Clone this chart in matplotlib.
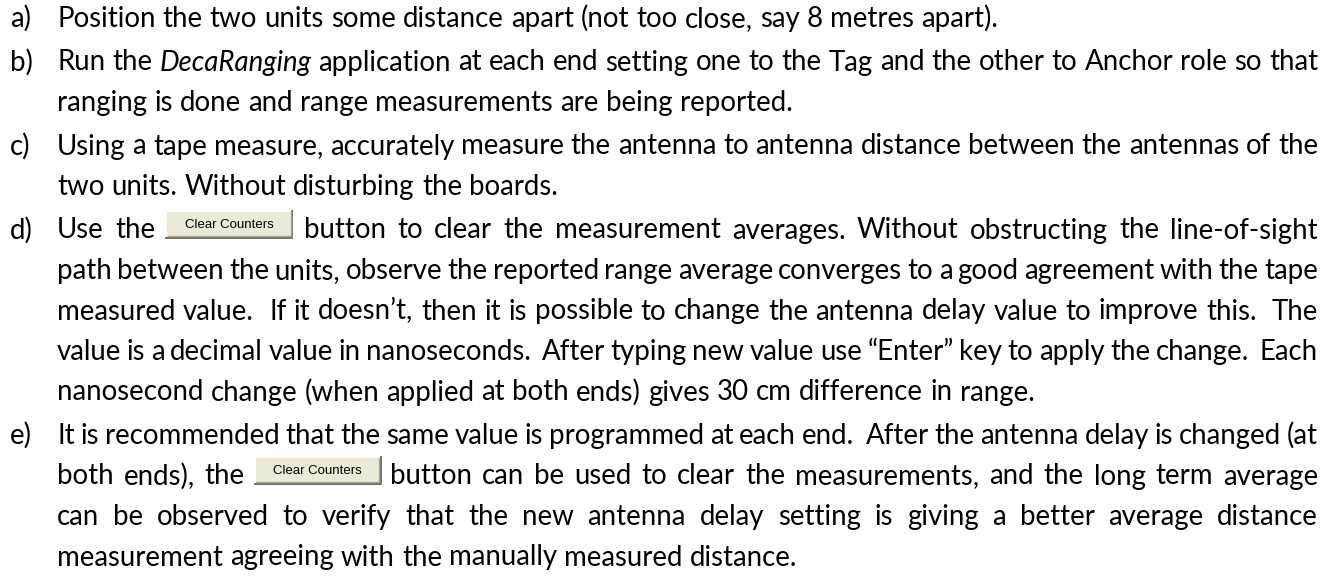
import matplotlib
matplotlib.use('Agg')
import matplotlib.pyplot as plt
from matplotlib.patches import Rectangle

# ------------------------------------------------------------------
# text of the page: one list of already-broken lines per item
labels = ['a)', 'b)', 'c)', 'd)', 'e)']
para_a = ["Position the two units some distance apart (not too close, say 8 metres apart)."]
para_b = ["Run the *DecaRanging* application at each end setting one to the Tag and the other to Anchor role so that",
          "ranging is done and range measurements are being reported."]
para_c = ["Using a tape measure, accurately measure the antenna to antenna distance between the antennas of the",
          "two units. Without disturbing the boards."]
para_d = ["Use the [BTN] button to clear the measurement averages. Without obstructing the line-of-sight",
          "path between the units, observe the reported range average converges to a good agreement with the tape",
          "measured value.  If it doesn\u2019t, then it is possible to change the antenna delay value to improve this.  The",
          "value is a decimal value in nanoseconds.  After typing new value use \u201cEnter\u201d key to apply the change.  Each",
          "nanosecond change (when applied at both ends) gives 30 cm difference in range."]
para_e = ["It is recommended that the same value is programmed at each end.  After the antenna delay is changed (at",
          "both ends), the [BTN] button can be used to clear the measurements, and the long term average",
          "can be observed to verify that the new antenna delay setting is giving a better average distance",
          "measurement agreeing with the manually measured distance."]
paragraphs = [para_a, para_b, para_c, para_d, para_e]
button_label = 'Clear Counters'
# ------------------------------------------------------------------

W, H = 1339, 583
FONT = 'Lato'
LABEL_X, LEFT, RIGHT = 10, 57, 1318
Y0, PITCH, PARA_GAP = 27, 40.5, 3
BTN_W, BTN_H = 126, 27

fig = plt.figure(figsize=(W / 100, H / 100), dpi=100)
ax = fig.add_axes([0, 0, 1, 1])
ax.set_xlim(0, W)
ax.set_ylim(H, 0)
ax.axis('off')
renderer = fig.canvas.get_renderer()


def width(t):
    return t.get_window_extent(renderer=renderer).width


# size chosen from the length of line a)
probe = ax.text(0, 0, para_a[0], fontsize=20, family=FONT)
FS = 20 * 940 / width(probe)
probe.remove()

probe = ax.text(0, 0, 'a a', fontsize=FS, family=FONT)
w2 = width(probe)
probe.set_text('aa')
SPACE = w2 - width(probe)
probe.remove()


def draw_button(x, base):
    top = base - 1 - BTN_H
    ax.add_patch(Rectangle((x, top), BTN_W, BTN_H, facecolor='#ECE9D8',
                           edgecolor='none', zorder=2))
    ax.plot([x, x, x + BTN_W], [top + BTN_H, top, top], color='white', lw=1.2, zorder=3)
    ax.plot([x, x + BTN_W, x + BTN_W], [top + BTN_H, top + BTN_H, top],
            color='#716F64', lw=1.4, zorder=3)
    ax.plot([x + 1.5, x + BTN_W - 1.5, x + BTN_W - 1.5],
            [top + BTN_H - 1.5, top + BTN_H - 1.5, top + 1.5],
            color='#ACA899', lw=1, zorder=3)
    ax.text(x + BTN_W / 2, top + BTN_H / 2 + 0.5, button_label, fontsize=9.5,
            family=['Liberation Sans Narrow', 'Liberation Sans'],
            ha='center', va='center', color='black', zorder=4)


y = Y0
for label, lines in zip(labels, paragraphs):
    ax.text(LABEL_X, y, label, fontsize=FS, family=FONT, va='baseline', color='black')
    for i, line in enumerate(lines):
        tokens = line.split(' ')
        items = []
        for tok in tokens:
            if tok == '[BTN]':
                items.append(('btn', None, BTN_W))
            elif tok == '':
                items.append(('gap', None, 0))
            else:
                style = 'normal'
                if tok.startswith('*') and tok.endswith('*'):
                    tok, style = tok[1:-1], 'italic'
                t = ax.text(0, y, tok, fontsize=FS, family=FONT, style=style,
                            va='baseline', ha='left', color='black')
                items.append(('txt', t, width(t)))
        justified = i < len(lines) - 1
        total = sum(it[2] for it in items)
        gap = (RIGHT - LEFT - total) / (len(items) - 1) if justified else SPACE
        x = LEFT
        for kind, t, w in items:
            if kind == 'txt':
                t.set_x(x)
            elif kind == 'btn':
                draw_button(x, y)
            x += w + gap
        y += PITCH
    y += PARA_GAP

fig.savefig('out.png', dpi=100, facecolor='white')
